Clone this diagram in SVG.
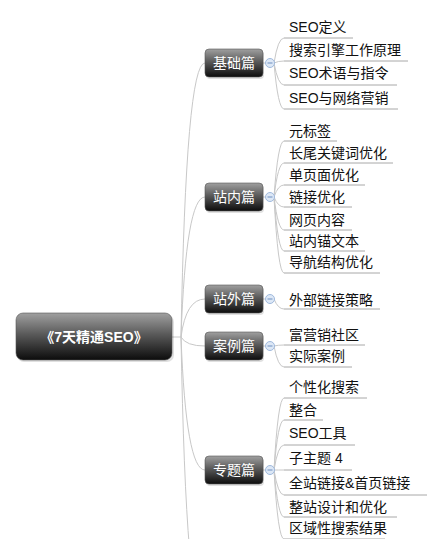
<svg xmlns="http://www.w3.org/2000/svg" width="434" height="539" viewBox="0 0 434 539">
<defs>
<linearGradient id="g" x1="0" y1="0" x2="0" y2="1">
<stop offset="0" stop-color="#a0a0a0"/>
<stop offset="0.45" stop-color="#5a5a5a"/>
<stop offset="1" stop-color="#0c0c0c"/>
</linearGradient>
<style>
.box{fill:url(#g);stroke:#555;stroke-width:0.6}
.shadow{fill:#000;opacity:0.12}
.ct{fill:#fff;font-family:"Liberation Sans","Noto Sans CJK SC",sans-serif;font-size:14px;text-anchor:middle}
.rt{fill:#fff;font-family:"Liberation Sans","Noto Sans CJK SC",sans-serif;font-size:14px;font-weight:bold;text-anchor:middle}
.lt{fill:#111;font-family:"Liberation Sans","Noto Sans CJK SC",sans-serif;font-size:14px}
.c{fill:none;stroke:#c8c8c8;stroke-width:1}
.u{fill:none;stroke:#a8a8a8;stroke-width:1}
.col{fill:#dde8f6;stroke:#9fb9dd;stroke-width:1}
.minus{stroke:#6e8fc0;stroke-width:1}
</style>
</defs>
<rect width="434" height="539" fill="#fff"/>
<g id="connectors">
<path class="c" d="M172,337 L181,337"/>
<path class="c" d="M181,337 Q186,63 205,63"/>
<path class="c" d="M181,337 Q186,197 205,197"/>
<path class="c" d="M181,337 Q186,299 205,299"/>
<path class="c" d="M181,337 Q186,346 205,346"/>
<path class="c" d="M181,337 Q186,470 205,470"/>
<path class="c" d="M181,337 Q186,620 205,620"/>
<path class="c" d="M263,63 L266,63"/>
<path class="c" d="M263,197 L266,197"/>
<path class="c" d="M263,299 L266,299"/>
<path class="c" d="M263,346 L266,346"/>
<path class="c" d="M263,470 L266,470"/>
<!-- 基础篇 leaves -->
<path class="c" d="M274,63 Q278,38 284,38"/>
<path class="c" d="M274,63 Q278,61 284,61"/>
<path class="c" d="M274,63 Q278,85 284,85"/>
<path class="c" d="M274,63 Q278,109 284,109"/>
<!-- 站内篇 leaves -->
<path class="c" d="M274,197 Q278,141 284,141"/>
<path class="c" d="M274,197 Q278,163 284,163"/>
<path class="c" d="M274,197 Q278,185 284,185"/>
<path class="c" d="M274,197 Q278,207 284,207"/>
<path class="c" d="M274,197 Q278,230 284,230"/>
<path class="c" d="M274,197 Q278,251 284,251"/>
<path class="c" d="M274,197 Q278,273 284,273"/>
<!-- 站外篇 -->
<path class="c" d="M274,299 Q278,309 284,309"/>
<!-- 案例篇 -->
<path class="c" d="M274,346 Q278,345 284,345"/>
<path class="c" d="M274,346 Q278,367 284,367"/>
<!-- 专题篇 -->
<path class="c" d="M274,470 Q278,398 284,398"/>
<path class="c" d="M274,470 Q278,420 284,420"/>
<path class="c" d="M274,470 Q278,445 284,445"/>
<path class="c" d="M274,470 Q278,470 284,470"/>
<path class="c" d="M274,470 Q278,495 284,495"/>
<path class="c" d="M274,470 Q278,517 284,517"/>
<path class="c" d="M274,470 Q278,539 284,539"/>
</g>
<g id="root">
<rect class="shadow" x="17" y="315" width="157" height="47" rx="7"/>
<rect class="box" x="16" y="313" width="156" height="47" rx="7"/>
<text class="rt" x="94" y="342">《7天精通SEO》</text>
</g>
<g id="cat-jichu">
<rect class="shadow" x="206" y="51" width="58" height="28" rx="4"/>
<rect class="box" x="205" y="49" width="58" height="28" rx="4"/>
<text class="ct" x="234" y="68">基础篇</text>
<circle class="col" cx="270" cy="63" r="4.5"/><path class="minus" d="M267.5,63 H272.5"/>
</g>
<g id="cat-zhannei">
<rect class="shadow" x="206" y="185" width="58" height="28" rx="4"/>
<rect class="box" x="205" y="183" width="58" height="28" rx="4"/>
<text class="ct" x="234" y="202">站内篇</text>
<circle class="col" cx="270" cy="197" r="4.5"/><path class="minus" d="M267.5,197 H272.5"/>
</g>
<g id="cat-zhanwai">
<rect class="shadow" x="206" y="287" width="58" height="28" rx="4"/>
<rect class="box" x="205" y="285" width="58" height="28" rx="4"/>
<text class="ct" x="234" y="304">站外篇</text>
<circle class="col" cx="270" cy="299" r="4.5"/><path class="minus" d="M267.5,299 H272.5"/>
</g>
<g id="cat-anli">
<rect class="shadow" x="206" y="334" width="58" height="28" rx="4"/>
<rect class="box" x="205" y="332" width="58" height="28" rx="4"/>
<text class="ct" x="234" y="351">案例篇</text>
<circle class="col" cx="270" cy="346" r="4.5"/><path class="minus" d="M267.5,346 H272.5"/>
</g>
<g id="cat-zhuanti">
<rect class="shadow" x="206" y="458" width="58" height="28" rx="4"/>
<rect class="box" x="205" y="456" width="58" height="28" rx="4"/>
<text class="ct" x="234" y="475">专题篇</text>
<circle class="col" cx="270" cy="470" r="4.5"/><path class="minus" d="M267.5,470 H272.5"/>
</g>
<g id="leaf-1"><text class="lt" x="289" y="32">SEO定义</text><path class="u" d="M284,38 H353"/></g>
<g id="leaf-2"><text class="lt" x="289" y="55">搜索引擎工作原理</text><path class="u" d="M284,61 H408"/></g>
<g id="leaf-3"><text class="lt" x="289" y="78">SEO术语与指令</text><path class="u" d="M284,85 H397"/></g>
<g id="leaf-4"><text class="lt" x="289" y="103">SEO与网络营销</text><path class="u" d="M284,109 H398"/></g>
<g id="leaf-5"><text class="lt" x="289" y="136">元标签</text><path class="u" d="M284,141 H337"/></g>
<g id="leaf-6"><text class="lt" x="289" y="158">长尾关键词优化</text><path class="u" d="M284,163 H393"/></g>
<g id="leaf-7"><text class="lt" x="289" y="180">单页面优化</text><path class="u" d="M284,185 H365"/></g>
<g id="leaf-8"><text class="lt" x="289" y="202">链接优化</text><path class="u" d="M284,207 H352"/></g>
<g id="leaf-9"><text class="lt" x="289" y="225">网页内容</text><path class="u" d="M284,230 H352"/></g>
<g id="leaf-10"><text class="lt" x="289" y="246">站内锚文本</text><path class="u" d="M284,251 H365"/></g>
<g id="leaf-11"><text class="lt" x="289" y="267">导航结构优化</text><path class="u" d="M284,273 H380"/></g>
<g id="leaf-12"><text class="lt" x="289" y="305">外部链接策略</text><path class="u" d="M284,309 H380"/></g>
<g id="leaf-13"><text class="lt" x="289" y="340">富营销社区</text><path class="u" d="M284,345 H365"/></g>
<g id="leaf-14"><text class="lt" x="289" y="361">实际案例</text><path class="u" d="M284,367 H352"/></g>
<g id="leaf-15"><text class="lt" x="289" y="392">个性化搜索</text><path class="u" d="M284,398 H367"/></g>
<g id="leaf-16"><text class="lt" x="289" y="415">整合</text><path class="u" d="M284,420 H323"/></g>
<g id="leaf-17"><text class="lt" x="289" y="438">SEO工具</text><path class="u" d="M284,445 H355"/></g>
<g id="leaf-18"><text class="lt" x="289" y="463">子主题 4</text><path class="u" d="M284,470 H352"/></g>
<g id="leaf-19"><text class="lt" x="289" y="488">全站链接&amp;首页链接</text><path class="u" d="M284,495 H427"/></g>
<g id="leaf-20"><text class="lt" x="289" y="512">整站设计和优化</text><path class="u" d="M284,517 H397"/></g>
<g id="leaf-21"><text class="lt" x="289" y="533">区域性搜索结果</text><path class="u" d="M284,539 H385"/></g>
</svg>
